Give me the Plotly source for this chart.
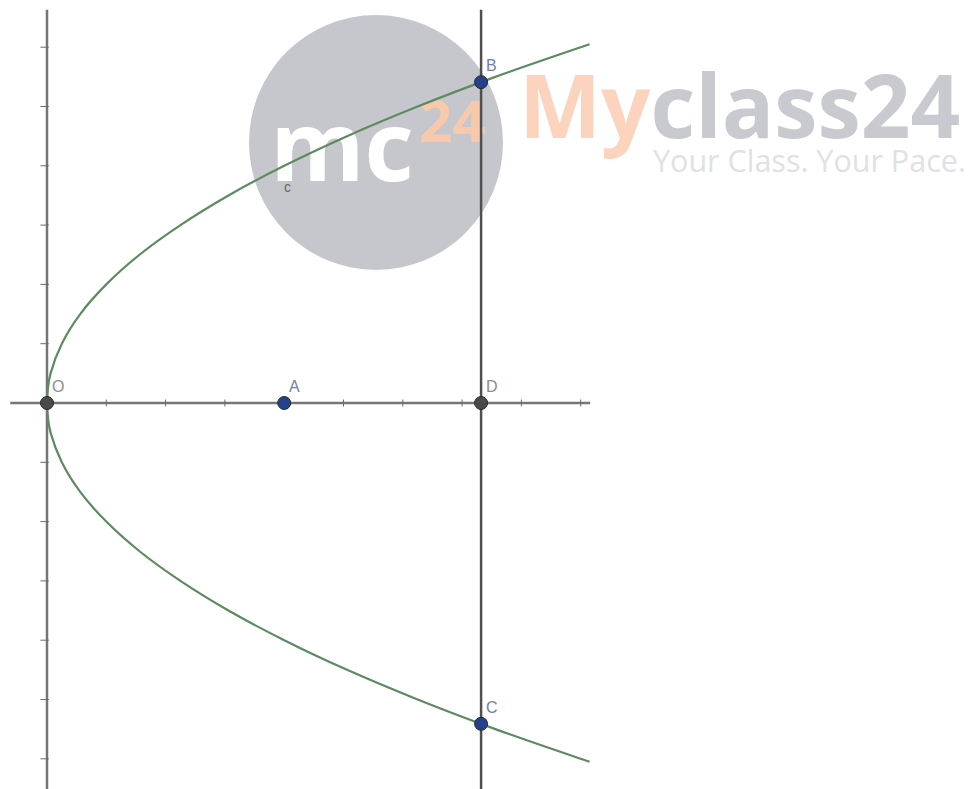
import plotly.graph_objects as go

W, H = 976, 789
OFF = 8  # page body margin

# ---- data (units: 1 tick = 1) ----
curve_y = [-6.05, -6.0, -5.5, -5.0, -4.5, -4.0, -3.5, -3.0, -2.5, -2.0, -1.5, -1.0, -0.5, -0.25, 0.0,
           0.25, 0.5, 1.0, 1.5, 2.0, 2.5, 3.0, 3.5, 4.0, 4.5, 5.0, 5.5, 6.0, 6.05]
curve_x = [9.15, 9.0, 7.56, 6.25, 5.06, 4.0, 3.06, 2.25, 1.56, 1.0, 0.56, 0.25, 0.06, 0.016, 0.0,
           0.016, 0.06, 0.25, 0.56, 1.0, 1.56, 2.25, 3.06, 4.0, 5.06, 6.25, 7.56, 9.0, 9.15]

point_names = ["O", "A", "D", "B", "C"]
point_x = [0.0, 4.0, 7.32, 7.32, 7.32]
point_y = [0.0, 0.0, 0.0, 5.41, -5.41]
point_colors = ["#4a4a4a", "#23418c", "#4a4a4a", "#23418c", "#23418c"]
label_colors = ["#8c8c8c", "#7080a8", "#8c8c8c", "#7080a8", "#7080a8"]

x_axis_span = [-0.62, 9.16]
y_axis_span = [-6.7, 6.63]
x_ticks = [1, 2, 3, 5, 6, 7, 8, 9]
y_ticks = [-6, -5, -4, -3, -2, -1, 1, 2, 3, 4, 5, 6]
d_line_x = 7.32

UNIT = 59.3
ox, oy = 47 - OFF, 403 - OFF
x_range = [-ox / UNIT, (W - ox) / UNIT]
y_range = [-(H - oy) / UNIT, oy / UNIT]

fig = go.Figure()

# axes
fig.add_trace(go.Scatter(x=x_axis_span, y=[0, 0], mode="lines",
                         line=dict(color="#767676", width=2.5), hoverinfo="skip"))
fig.add_trace(go.Scatter(x=[0, 0], y=y_axis_span, mode="lines",
                         line=dict(color="#767676", width=2.5), hoverinfo="skip"))
# vertical line through D
fig.add_trace(go.Scatter(x=[d_line_x, d_line_x], y=y_axis_span, mode="lines",
                         line=dict(color="#505050", width=2.5), hoverinfo="skip"))
# parabola
fig.add_trace(go.Scatter(x=curve_x, y=curve_y, mode="lines", line_shape="spline",
                         line=dict(color="#5e8a60", width=2.2), hoverinfo="skip"))
# tick marks
fig.add_trace(go.Scatter(x=x_ticks, y=[0] * len(x_ticks), mode="markers",
                         marker=dict(symbol="line-ns", size=5,
                                     line=dict(color="#6a6a6a", width=1)), hoverinfo="skip"))
fig.add_trace(go.Scatter(x=[-0.04] * len(y_ticks), y=y_ticks, mode="markers",
                         marker=dict(symbol="line-ew", size=6,
                                     line=dict(color="#6a6a6a", width=1)), hoverinfo="skip"))
# points
fig.add_trace(go.Scatter(x=point_x, y=point_y, mode="markers",
                         marker=dict(size=13, color=point_colors,
                                     line=dict(color="#2a2a2a", width=1)), hoverinfo="skip"))
# point labels
for name, px, py, c in zip(point_names, point_x, point_y, label_colors):
    fig.add_annotation(x=px, y=py, text=name, showarrow=False, xanchor="left", yanchor="bottom",
                       xshift=3, yshift=6, font=dict(family="Liberation Sans, Arial", size=16, color=c))
# curve label
fig.add_annotation(x=4.06, y=3.65, text="c", showarrow=False,
                   font=dict(family="Liberation Sans, Arial", size=14, color="#666666"))


def px_x(p):
    return (p - OFF) / W


def px_y(p):
    return 1 - (p - OFF) / H


# watermark (below traces)
fig.add_shape(type="circle", xref="paper", yref="paper", layer="below",
              x0=px_x(249), x1=px_x(503), y0=px_y(270), y1=px_y(15),
              fillcolor="#c5c7cd", line=dict(width=0))
fig.add_shape(type="rect", xref="paper", yref="paper", layer="below",
              x0=px_x(262), x1=px_x(422), y0=px_y(200), y1=px_y(100),
              fillcolor="rgba(0,0,0,0)", line=dict(width=0),
              label=dict(text="<b>mc</b>", textposition="middle center",
                         font=dict(family="Open Sans, Noto Sans", size=96, color="white")))
fig.add_shape(type="rect", xref="paper", yref="paper", layer="below",
              x0=px_x(415), x1=px_x(490), y0=px_y(155), y1=px_y(92),
              fillcolor="rgba(0,0,0,0)", line=dict(width=0),
              label=dict(text="<b>24</b>", textposition="middle center",
                         font=dict(family="Open Sans, Noto Sans", size=58, color="#f8c9aa")))
fig.add_annotation(xref="paper", yref="paper", x=px_x(517), y=px_y(104), xanchor="left", yanchor="middle",
                   showarrow=False,
                   text="<b><span style='color:#fcd3bd'>My</span><span style='color:#c8cad0'>class24</span></b>",
                   font=dict(family="Open Sans, Noto Sans", size=87))
fig.add_annotation(xref="paper", yref="paper", x=px_x(651), y=px_y(160), xanchor="left", yanchor="middle",
                   showarrow=False, text="Your Class. Your Pace.",
                   font=dict(family="Open Sans, Noto Sans", size=30.5, color="#e0e1e4"))

fig.update_layout(width=W, height=H, margin=dict(l=0, r=0, t=0, b=0),
                  paper_bgcolor="white", plot_bgcolor="white", showlegend=False,
                  xaxis=dict(range=x_range, visible=False, fixedrange=True),
                  yaxis=dict(range=y_range, visible=False, fixedrange=True))

fig.write_html("out.html")
